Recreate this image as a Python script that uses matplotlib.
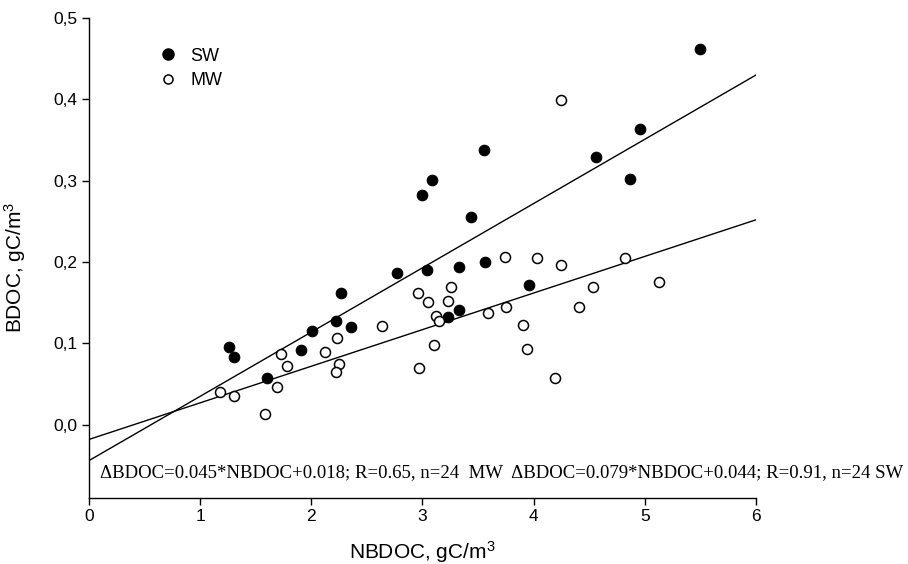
import numpy as np
import matplotlib
matplotlib.use("Agg")
import matplotlib.pyplot as plt
from matplotlib.lines import Line2D

plt.rcParams['font.family'] = ['Liberation Sans', 'DejaVu Sans']
plt.rcParams['mathtext.default'] = 'regular'

# SW samples (filled circles)
sw_nbdoc = [1.26, 1.30, 1.60, 1.91, 2.01, 2.22, 2.27, 2.36, 2.77, 3.00, 3.09, 3.04,
            3.23, 3.33, 3.33, 3.44, 3.55, 3.56, 3.96, 4.56, 4.87, 4.96, 5.50]
sw_bdoc = [0.096, 0.083, 0.057, 0.092, 0.115, 0.127, 0.162, 0.120, 0.187, 0.282, 0.301, 0.190,
           0.132, 0.141, 0.194, 0.255, 0.338, 0.200, 0.172, 0.329, 0.302, 0.364, 0.462]

# MW samples (open circles)
mw_nbdoc = [1.18, 1.30, 1.58, 1.69, 1.73, 1.78, 2.12, 2.23, 2.25, 2.22, 2.64, 2.96,
            2.97, 3.05, 3.10, 3.12, 3.15, 3.23, 3.26, 3.59, 3.74, 3.75, 3.90, 3.94,
            4.03, 4.19, 4.25, 4.25, 4.41, 4.53, 4.82, 5.13]
mw_bdoc = [0.040, 0.035, 0.013, 0.046, 0.087, 0.072, 0.090, 0.107, 0.075, 0.065, 0.122, 0.162,
           0.070, 0.151, 0.098, 0.134, 0.127, 0.152, 0.170, 0.137, 0.206, 0.145, 0.123, 0.093,
           0.205, 0.057, 0.399, 0.196, 0.145, 0.170, 0.205, 0.176]

# regression lines: slope, intercept
sw_fit = [0.079, -0.044]
mw_fit = [0.045, -0.018]

eq_text = (u"\u0394BDOC=0.045*NBDOC+0.018; R=0.65, n=24  MW  "
           u"\u0394BDOC=0.079*NBDOC+0.044; R=0.91, n=24 SW")

fig = plt.figure(figsize=(9.08, 5.64), dpi=100)
ax = fig.add_axes([0.098, 0.117, 0.7346, 0.851])

xx = np.array([0.0, 6.0])
ax.plot(xx, sw_fit[0] * xx + sw_fit[1], color='black', lw=1.0, zorder=1)
ax.plot(xx, mw_fit[0] * xx + mw_fit[1], color='black', lw=1.0, zorder=1)

ax.plot(sw_nbdoc, sw_bdoc, 'o', ms=7.6, mfc='black', mec='black', mew=0.8, ls='none', zorder=3)
ax.plot(mw_nbdoc, mw_bdoc, 'o', ms=7.2, mfc='white', mec='black', mew=1.1, ls='none', zorder=3)

ax.set_xlim(0, 6)
ax.set_ylim(-0.09, 0.5)
ax.set_xticks(range(0, 7))
ax.set_yticks([0.0, 0.1, 0.2, 0.3, 0.4, 0.5])
ax.set_yticklabels(['0,0', '0,1', '0,2', '0,3', '0,4', '0,5'])
ax.spines['top'].set_visible(False)
ax.spines['right'].set_visible(False)
for sp in ['left', 'bottom']:
    ax.spines[sp].set_linewidth(1.0)
ax.tick_params(direction='out', length=5, width=1.0, labelsize=12.5, pad=3)

ax.set_xlabel('NBDOC, gC/m$^3$', fontsize=15)
ax.set_ylabel('BDOC, gC/m$^3$', fontsize=15)
ax.xaxis.label.set_va('baseline')
ax.xaxis.set_label_coords(0.5, -0.127)
ax.yaxis.set_label_coords(-0.092, 0.48)

ax.text(0.0165, 0.044, eq_text, transform=ax.transAxes, fontsize=13.5,
        family=['Liberation Serif', 'DejaVu Serif'], ha='left', va='baseline')

handles = [Line2D([], [], marker='o', ls='none', ms=8, mfc='black', mec='black'),
           Line2D([], [], marker='o', ls='none', ms=6.5, mfc='white', mec='black', mew=1.1)]
ax.legend(handles, ['SW', 'MW'], loc='upper left', bbox_to_anchor=(0.08, 0.972),
          frameon=False, fontsize=13, handlelength=1.0, handletextpad=0.75,
          labelspacing=0.4)

fig.savefig('out.png', dpi=100)
